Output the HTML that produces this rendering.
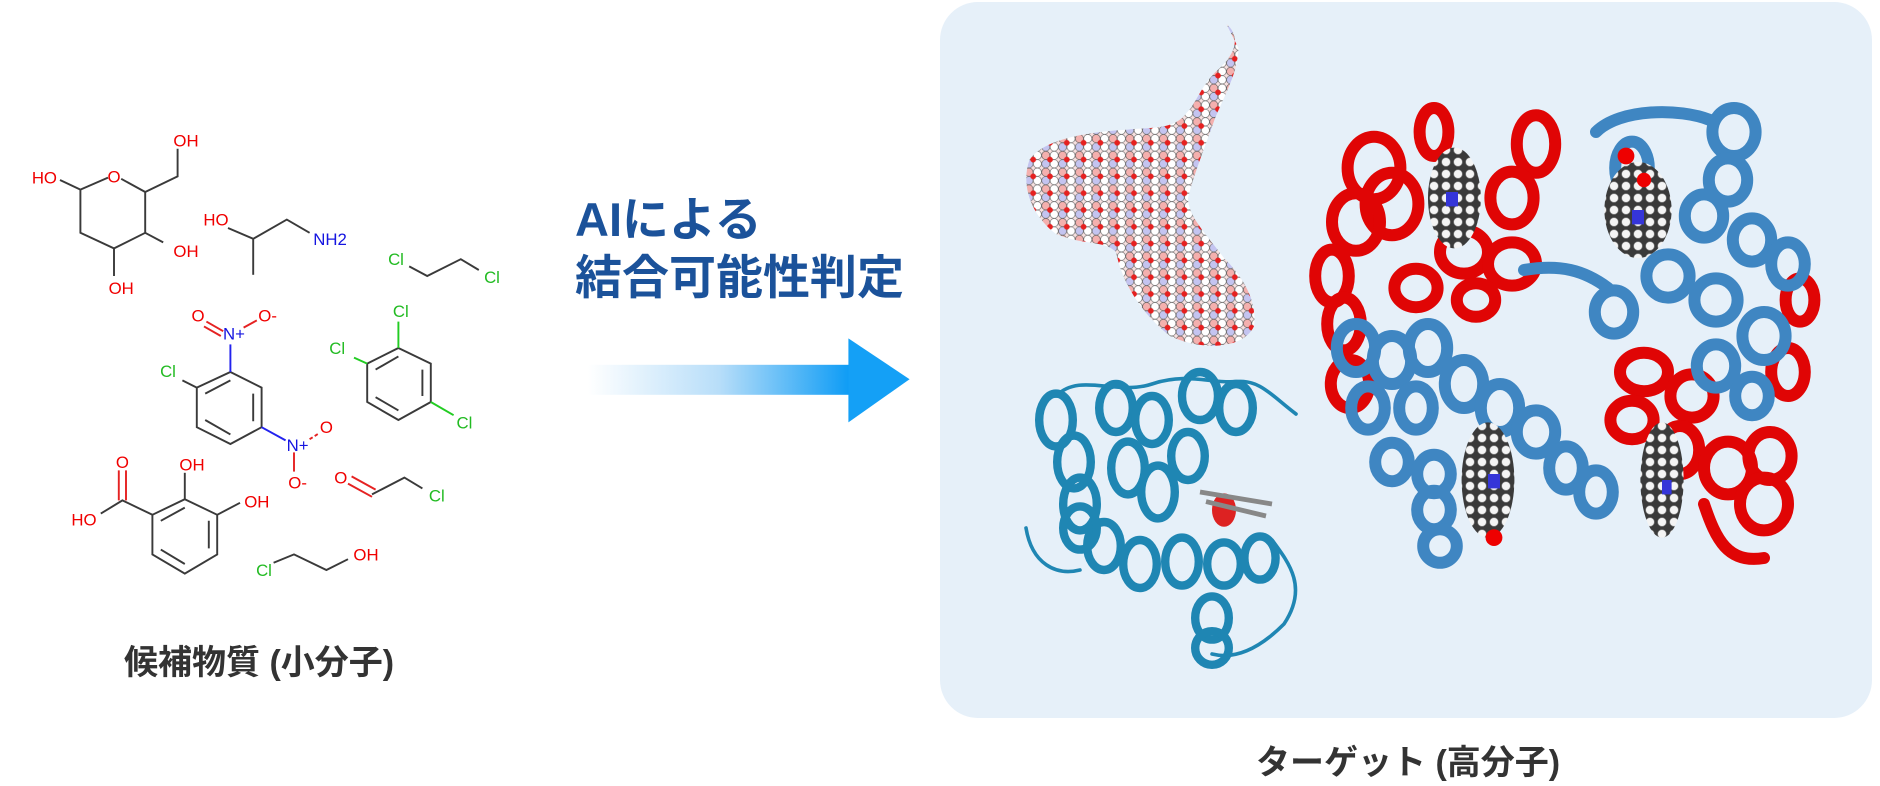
<!DOCTYPE html>
<html><head><meta charset="utf-8"><style>
html,body{margin:0;padding:0;background:#fff;width:1880px;height:786px;overflow:hidden;}
body{position:relative;font-family:"Liberation Sans","Noto Sans CJK JP",sans-serif;}
.panel{position:absolute;left:940px;top:2px;width:932px;height:716px;background:#e6f0f9;border-radius:38px;}
.t{position:absolute;color:#1b529a;font-weight:bold;font-size:47px;line-height:1;white-space:nowrap;}
.cap{position:absolute;color:#333;font-weight:bold;font-size:34px;line-height:1;white-space:nowrap;}
svg{position:absolute;left:0;top:0;}
</style></head><body>
<div class="panel"></div>
<svg width="1880" height="786" viewBox="0 0 1566.67 655">
<defs>
<linearGradient id="ag" x1="0" x2="1" y1="0" y2="0">
<stop offset="0" stop-color="#ffffff"/><stop offset="0.5" stop-color="#b8def9"/><stop offset="1" stop-color="#0e9cf5"/></linearGradient>
<pattern id="rna" width="14" height="14" patternUnits="userSpaceOnUse">
<rect width="14" height="14" fill="#f7e0e0"/>
<circle cx="3.5" cy="3.5" r="3.4" fill="#f4b0ae" stroke="#555" stroke-width="0.5"/>
<circle cx="10.5" cy="3.5" r="3.4" fill="#fff" stroke="#666" stroke-width="0.5"/>
<circle cx="3.5" cy="10.5" r="3.4" fill="#c4c4f0" stroke="#666" stroke-width="0.5"/>
<circle cx="10.5" cy="10.5" r="3.4" fill="#fff" stroke="#666" stroke-width="0.5"/>
<circle cx="7" cy="7" r="2.4" fill="#e62020"/>
</pattern>
<pattern id="heme" width="10" height="10" patternUnits="userSpaceOnUse">
<rect width="10" height="10" fill="#3a3a3a"/>
<circle cx="5" cy="5" r="3.6" fill="#f4f4f4" stroke="#888" stroke-width="0.5"/>
</pattern>
</defs>
<!-- arrow -->
<rect x="490" y="304" width="218" height="25" fill="url(#ag)"/>
<polygon points="707,282 758,316 707,352" fill="#14a0f6"/>

<!-- molecules -->
<g stroke="#3a3a3a" stroke-width="1.6" fill="none">
<!-- pyranose -->
<polyline points="50,150 67,158"/>
<polyline points="67,158 90,148"/><polyline points="101,149 121,160 121,194 95,207 67,194 67,158"/>
<polyline points="121,160 148,147 148,124"/><polyline points="121,194 136,202"/><polyline points="95,207 95,230"/>
<!-- aminopropanol -->
<polyline points="190,190 211,199 239,183 258,194"/><polyline points="211,199 211,229"/>
<!-- dichloroethane -->
<polyline points="341,222 356,230 384,216 399,225"/>
<!-- nitro ring -->
<polygon points="192,310 218,323 218,356 192,370 164,356 164,323"/>
<path d="M171,328 L192,317 M211,328 L211,351 M192,362 L171,350"/>
<polyline points="152,317 164,323"/>
<polyline points="192,310 192,287" stroke="#2222ee"/>
<polyline points="218,356 238,367" stroke="#2222ee"/>
<path d="M172,268 L186,276 M170,272 L184,280" stroke="#e52222"/>
<path d="M203,273 L214,267" stroke="#e52222"/>
<path d="M258,366 L266,361" stroke="#e52222" stroke-dasharray="3,2"/>
<path d="M245,377 L245,393" stroke="#e52222"/>
<!-- trichloro -->
<polygon points="332,290 359,303 359,335 332,350 306,335 306,303"/>
<path d="M313,308 L332,297 M352,308 L352,330 M332,342 L313,331"/>
<polyline points="332,290 332,268" stroke="#22cc22"/>
<polyline points="295,298 306,303" stroke="#22cc22"/>
<polyline points="359,335 378,346" stroke="#22cc22"/>
<!-- benzoic -->
<polygon points="154,416 181,429 181,462 154,478 127,462 127,429"/>
<path d="M134,434 L154,423 M174,434 L174,457 M154,470 L134,458"/>
<polyline points="127,429 102,417 84,428"/>
<path d="M99,417 L99,392 M105,417 L105,392" stroke="#e52222"/>
<polyline points="154,416 154,394"/><polyline points="181,429 200,419"/>
<!-- chloroacetaldehyde -->
<polyline points="310,412 337,398 352,407"/>
<path d="M290,403 L310,414 M293,397 L313,408" stroke="#e52222"/>
<!-- chloroethanol -->
<polyline points="228,469 245,462 272,475 290,466"/>
</g>
<g font-family="Liberation Sans,sans-serif" font-size="14" text-anchor="middle">
<g fill="#f00000">
<text x="37" y="153">HO</text><text x="95" y="152">O</text><text x="155" y="122">OH</text>
<text x="155" y="214">OH</text><text x="101" y="245">OH</text>
<text x="180" y="188">HO</text>
<text x="165" y="268">O</text><text x="223" y="268">O-</text>
<text x="272" y="361">O</text><text x="248" y="407">O-</text>
<text x="102" y="390">O</text><text x="70" y="438">HO</text><text x="160" y="392">OH</text><text x="214" y="423">OH</text>
<text x="284" y="403">O</text><text x="305" y="467">OH</text>
</g>
<g fill="#1515e0"><text x="275" y="204">NH2</text><text x="195" y="283">N+</text><text x="248" y="376">N+</text></g>
<g fill="#22bb22"><text x="330" y="221">Cl</text><text x="410" y="236">Cl</text>
<text x="140" y="314">Cl</text><text x="334" y="264">Cl</text><text x="281" y="295">Cl</text><text x="387" y="357">Cl</text>
<text x="364" y="418">Cl</text><text x="220" y="480">Cl</text></g>
</g>

<!-- RNA -->
<path d="M1022,20 C1034,30 1030,45 1015,58 C1000,72 998,85 988,95 C978,108 960,106 940,108 C905,110 870,116 858,133 C850,155 860,180 880,195 C905,205 920,200 930,210 C935,235 950,260 975,280 C1000,292 1035,292 1045,272 C1048,250 1035,230 1020,215 C1005,195 990,180 990,165 C995,145 1005,120 1012,100 C1020,80 1032,60 1032,40 Z" fill="url(#rna)"/>

<!-- myoglobin -->
<g fill="none" stroke="#1f86b3" stroke-width="7" stroke-linecap="round">
<path d="M880,330 C900,310 930,330 960,320 C990,310 1010,320 1030,318 C1050,316 1060,330 1080,345" stroke-width="3"/>
<path d="M855,440 C860,470 880,480 900,475 M1060,450 C1075,470 1090,490 1070,520 C1050,540 1030,550 1010,545" stroke-width="3"/>
<ellipse cx="880" cy="350" rx="14" ry="22"/><ellipse cx="895" cy="385" rx="14" ry="22"/><ellipse cx="900" cy="420" rx="14" ry="22"/>
<ellipse cx="930" cy="340" rx="14" ry="20"/><ellipse cx="960" cy="350" rx="14" ry="20"/><ellipse cx="1000" cy="330" rx="15" ry="20"/><ellipse cx="1030" cy="340" rx="14" ry="20"/>
<ellipse cx="940" cy="390" rx="14" ry="22"/><ellipse cx="965" cy="410" rx="14" ry="22"/><ellipse cx="990" cy="380" rx="14" ry="20"/>
<ellipse cx="920" cy="455" rx="14" ry="20"/><ellipse cx="950" cy="470" rx="14" ry="20"/><ellipse cx="985" cy="468" rx="14" ry="20"/><ellipse cx="1020" cy="470" rx="14" ry="18"/><ellipse cx="1050" cy="465" rx="13" ry="18"/>
<ellipse cx="1010" cy="515" rx="14" ry="18"/><ellipse cx="1010" cy="540" rx="14" ry="14"/>
<ellipse cx="900" cy="440" rx="14" ry="18"/>
</g>
<ellipse cx="1020" cy="425" rx="10" ry="14" fill="#d22"/>
<path d="M1000,410 L1060,420 M1005,418 L1055,430" stroke="#888" stroke-width="4"/>

<!-- hemoglobin -->
<g fill="none" stroke-width="10" stroke-linecap="round">
<g stroke="#e00505">
<ellipse cx="1145" cy="140" rx="22" ry="26"/><ellipse cx="1160" cy="170" rx="22" ry="26"/><ellipse cx="1130" cy="185" rx="20" ry="24"/>
<ellipse cx="1110" cy="230" rx="14" ry="22"/><ellipse cx="1120" cy="270" rx="14" ry="22"/><ellipse cx="1125" cy="320" rx="16" ry="20"/>
<ellipse cx="1195" cy="110" rx="12" ry="20"/><ellipse cx="1280" cy="120" rx="16" ry="24"/><ellipse cx="1260" cy="165" rx="18" ry="22"/>
<ellipse cx="1220" cy="210" rx="20" ry="18"/><ellipse cx="1260" cy="220" rx="20" ry="18"/><ellipse cx="1180" cy="240" rx="18" ry="16"/><ellipse cx="1230" cy="250" rx="16" ry="14"/>
<ellipse cx="1370" cy="310" rx="20" ry="16"/><ellipse cx="1410" cy="330" rx="18" ry="18"/><ellipse cx="1360" cy="350" rx="18" ry="16"/>
<ellipse cx="1400" cy="375" rx="16" ry="20"/><ellipse cx="1440" cy="390" rx="20" ry="22"/><ellipse cx="1475" cy="380" rx="18" ry="20"/>
<ellipse cx="1470" cy="420" rx="20" ry="22"/><ellipse cx="1490" cy="310" rx="14" ry="20"/><ellipse cx="1500" cy="250" rx="12" ry="18"/>
<path d="M1420,420 C1430,450 1440,470 1470,465"/>
</g>
<g stroke="#3f86c2">
<ellipse cx="1360" cy="140" rx="14" ry="22"/><ellipse cx="1445" cy="110" rx="18" ry="20"/><ellipse cx="1440" cy="150" rx="16" ry="18"/>
<ellipse cx="1420" cy="180" rx="16" ry="18"/><ellipse cx="1460" cy="200" rx="16" ry="18"/><ellipse cx="1490" cy="220" rx="14" ry="18"/>
<ellipse cx="1390" cy="230" rx="18" ry="18"/><ellipse cx="1430" cy="250" rx="18" ry="18"/><ellipse cx="1470" cy="280" rx="18" ry="20"/>
<ellipse cx="1345" cy="260" rx="16" ry="18"/><ellipse cx="1430" cy="305" rx="16" ry="18"/><ellipse cx="1460" cy="330" rx="14" ry="16"/>
<ellipse cx="1130" cy="290" rx="16" ry="20"/><ellipse cx="1160" cy="300" rx="16" ry="20"/><ellipse cx="1190" cy="290" rx="16" ry="20"/>
<ellipse cx="1140" cy="340" rx="14" ry="18"/><ellipse cx="1180" cy="340" rx="14" ry="18"/><ellipse cx="1220" cy="320" rx="16" ry="20"/>
<ellipse cx="1250" cy="340" rx="16" ry="20"/><ellipse cx="1280" cy="360" rx="16" ry="18"/><ellipse cx="1160" cy="385" rx="14" ry="16"/>
<ellipse cx="1195" cy="395" rx="14" ry="16"/><ellipse cx="1195" cy="425" rx="14" ry="16"/><ellipse cx="1200" cy="455" rx="14" ry="14"/>
<ellipse cx="1305" cy="390" rx="14" ry="18"/><ellipse cx="1330" cy="410" rx="14" ry="18"/>
<path d="M1330,110 C1350,90 1400,90 1425,100 M1270,225 C1300,220 1320,225 1340,240"/>
</g>
</g>
<g>
<ellipse cx="1212" cy="165" rx="22" ry="42" fill="url(#heme)"/>
<ellipse cx="1365" cy="175" rx="28" ry="40" fill="url(#heme)"/>
<circle cx="1355" cy="130" r="7" fill="#e00"/><circle cx="1370" cy="150" r="6" fill="#e00"/>
<ellipse cx="1240" cy="400" rx="22" ry="48" fill="url(#heme)"/>
<circle cx="1245" cy="448" r="7" fill="#e00"/>
<ellipse cx="1385" cy="400" rx="18" ry="48" fill="url(#heme)"/>
<rect x="1205" y="160" width="10" height="12" fill="#3535d8"/><rect x="1360" y="175" width="10" height="12" fill="#3535d8"/>
<rect x="1240" y="395" width="10" height="12" fill="#3535d8"/><rect x="1385" y="400" width="8" height="12" fill="#3535d8"/>
</g>
</svg>
<div class="t" style="left:575px;top:196px;">AIによる</div>
<div class="t" style="left:575px;top:254px;">結合可能性判定</div>
<div class="cap" style="left:124px;top:646px;">候補物質 (小分子)</div>
<div class="cap" style="left:1256px;top:746px;">ターゲット (高分子)</div>
</body></html>
